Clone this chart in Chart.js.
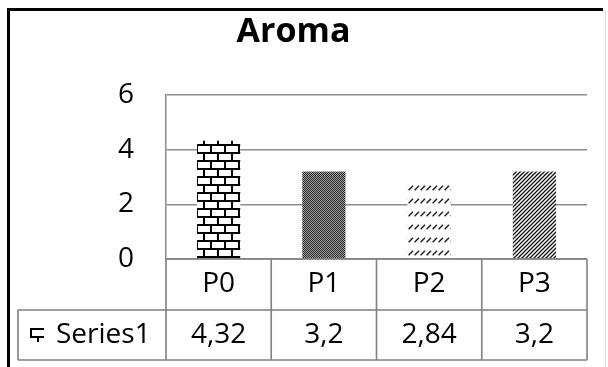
<!DOCTYPE html>
<html>
<head>
<meta charset="utf-8">
<script src="https://cdn.jsdelivr.net/npm/chart.js@4.4.1/dist/chart.umd.min.js"></script>
<style>
    html, body { margin: 0; padding: 0; background: #fff; }
    #wrap { width: 608px; height: 367px; position: relative; }
</style>
</head>
<body>
<div id="wrap"><canvas id="aromaChart" width="608" height="367"></canvas></div>
<script>
// Chart data
const categories = ['P0', 'P1', 'P2', 'P3'];
const seriesName = 'Series1';
const seriesValues = [4.32, 3.2, 2.84, 3.2];
const yTicks = [0, 2, 4, 6];
const chartTitle = 'Aroma';

const FONT = "'Open Sans', 'DejaVu Sans', sans-serif";

// Build the fill patterns used in the original (brick, dots, dashes, stripes)
function makePattern(w, h, draw) {
    const c = document.createElement('canvas');
    c.width = w;
    c.height = h;
    const g = c.getContext('2d');
    g.fillStyle = '#fff';
    g.fillRect(0, 0, w, h);
    draw(g);
    return document.getElementById('aromaChart').getContext('2d').createPattern(c, 'repeat');
}

const brick = makePattern(14, 16, g => {
    g.fillStyle = '#000';
    g.fillRect(0, 0, 14, 2);
    g.fillRect(0, 8, 14, 2);
    g.fillRect(0, 0, 2, 8);
    g.fillRect(7, 8, 2, 8);
});

const dots = makePattern(2, 2, g => {
    g.fillStyle = '#2a2a2a';
    g.fillRect(0, 0, 1, 1);
    g.fillRect(1, 1, 1, 1);
    g.fillStyle = '#a0a0a0';
    g.fillRect(1, 0, 1, 1);
    g.fillRect(0, 1, 1, 1);
});

const dashes = makePattern(6, 13, g => {
    g.strokeStyle = '#222';
    g.lineWidth = 1.5;
    g.beginPath();
    g.moveTo(0.6, 8.2);
    g.lineTo(5, 3.8);
    g.stroke();
});

const stripes = makePattern(4, 4, g => {
    g.strokeStyle = '#111';
    g.lineWidth = 1.3;
    g.beginPath();
    g.moveTo(-1, 5);
    g.lineTo(5, -1);
    g.moveTo(3, 5);
    g.lineTo(5, 3);
    g.moveTo(-1, 1);
    g.lineTo(1, -1);
    g.stroke();
});

const barFills = [brick, dots, dashes, stripes];

function fmt(v) {
    return String(v).replace('.', ',');
}

// Data table under the plot + outer frame
const dataTablePlugin = {
    id: 'dataTable',
    afterDraw(chart) {
        const ctx = chart.ctx;
        const x = chart.scales.x;
        const area = chart.chartArea;
        const colW = (area.right - area.left) / categories.length;
        const top = area.bottom;
        const mid = top + 51;
        const bot = top + 101;
        const tableLeft = 18;

        ctx.save();
        ctx.strokeStyle = '#808080';
        ctx.lineWidth = 1.6;
        ctx.beginPath();
        // horizontal lines
        ctx.moveTo(area.left, top);
        ctx.lineTo(area.right, top);
        ctx.moveTo(tableLeft, mid);
        ctx.lineTo(area.right, mid);
        ctx.moveTo(tableLeft, bot);
        ctx.lineTo(area.right, bot);
        // vertical lines
        ctx.moveTo(tableLeft, mid);
        ctx.lineTo(tableLeft, bot);
        categories.forEach((c, i) => {
            const left = x.getPixelForValue(i) - colW / 2;
            ctx.moveTo(left, top);
            ctx.lineTo(left, bot);
        });
        ctx.moveTo(area.right, top);
        ctx.lineTo(area.right, bot);
        ctx.stroke();

        ctx.fillStyle = '#000';
        ctx.font = '28px ' + FONT;
        ctx.textAlign = 'center';
        ctx.textBaseline = 'middle';
        categories.forEach((c, i) => {
            const cx = x.getPixelForValue(i);
            ctx.fillText(c, cx, (top + mid) / 2);
            ctx.fillText(fmt(seriesValues[i]), cx, (mid + bot) / 2);
        });

        // legend key + series name
        const ky = (mid + bot) / 2;
        ctx.save();
        ctx.translate(30, ky - 7);
        ctx.fillStyle = brick;
        ctx.fillRect(0, 0, 14, 14);
        ctx.restore();
        ctx.fillStyle = '#000';
        ctx.textAlign = 'left';
        ctx.fillText(seriesName, 56, ky);

        // outer frame
        ctx.fillStyle = '#000';
        ctx.fillRect(7, 8, 596, 3);
        ctx.fillRect(7, 8, 3, 359);
        ctx.strokeStyle = '#dcdcdc';
        ctx.lineWidth = 1;
        ctx.beginPath();
        ctx.moveTo(605.5, 11);
        ctx.lineTo(605.5, 367);
        ctx.stroke();
        ctx.restore();
    }
};

function initChart() {
    const ctx = document.getElementById('aromaChart').getContext('2d');
    new Chart(ctx, {
        type: 'bar',
        data: {
            labels: categories,
            datasets: [{
                label: seriesName,
                data: seriesValues,
                backgroundColor: barFills,
                borderWidth: 0,
                barPercentage: 0.41,
                categoryPercentage: 1
            }]
        },
        options: {
            responsive: false,
            animation: false,
            layout: {
                padding: { top: 10, left: 0, right: 21, bottom: 108 }
            },
            scales: {
                x: {
                    display: false
                },
                y: {
                    min: 0,
                    max: 6,
                    afterBuildTicks: scale => {
                        scale.ticks = yTicks.map(v => ({ value: v }));
                    },
                    afterFit: scale => {
                        scale.width = 166;
                    },
                    grid: {
                        color: '#8c8c8c',
                        lineWidth: 1.5,
                        drawTicks: false
                    },
                    border: {
                        color: '#8c8c8c',
                        width: 1.5
                    },
                    ticks: {
                        color: '#000',
                        padding: 32,
                        font: { family: FONT, size: 28 }
                    }
                }
            },
            plugins: {
                legend: { display: false },
                tooltip: { enabled: false },
                title: {
                    display: true,
                    text: chartTitle,
                    color: '#000',
                    font: { family: FONT, size: 34, weight: 'bold' },
                    padding: { top: 2, bottom: 42 }
                }
            }
        },
        plugins: [dataTablePlugin]
    });
}

window.addEventListener('DOMContentLoaded', initChart);
</script>
</body>
</html>
